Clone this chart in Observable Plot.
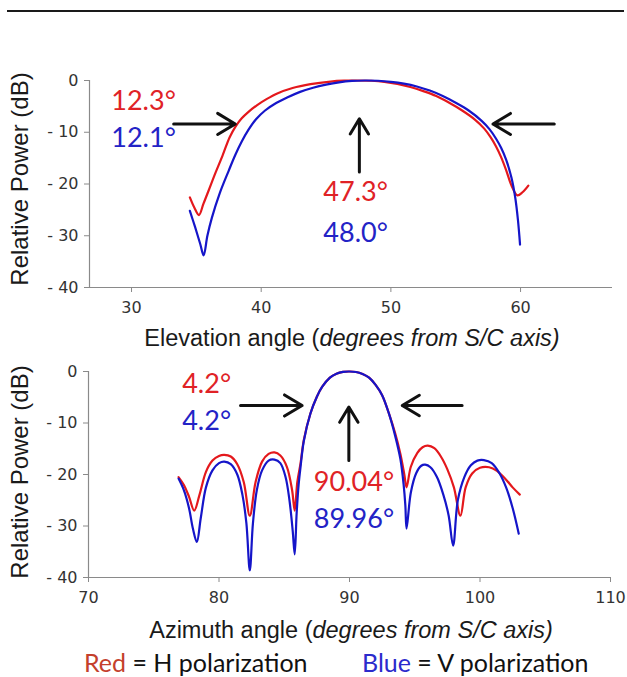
<!DOCTYPE html>
<html><head><meta charset="utf-8">
<script src="https://cdn.jsdelivr.net/npm/d3@7"></script>
<script src="https://cdn.jsdelivr.net/npm/@observablehq/plot@0.6"></script>
<style>
body{margin:0;background:#fff;}
#wrap{position:relative;width:627px;height:677px;overflow:hidden;background:#fff;}
.abs{position:absolute;}
.xt{font-family:"Liberation Sans",Arial,sans-serif;font-size:23.5px;line-height:23.5px;color:#1a1a1a;white-space:nowrap;transform:translateX(-50%);}
.leg{font-family:Lato,"Open Sans",sans-serif;font-size:25px;line-height:25px;color:#111;white-space:nowrap;}
</style></head><body><div id="wrap"></div>
<script>
// ---------- Elevation cut (degrees from S/C axis, relative power dB) ----------
const elevH_deg = [34.5, 34.85, 35.2, 35.55, 35.94, 36.48, 37.02, 37.56, 38.02, 38.5, 39.0, 39.69, 40.41, 41.24, 42.42, 43.8, 45.35, 46.4, 47.3, 48.5, 49.5, 50.5, 51.5, 52.5, 53.5, 54.5, 55.5, 56.5, 57.2, 57.7, 58.1, 58.5, 58.9, 59.3, 59.75, 60.15, 60.6];
const elevH_db  = [-22.6, -24.6, -26.0, -23.8, -21.3, -17.8, -14.5, -11.0, -8.9, -7.3, -6.1, -4.75, -3.6, -2.5, -1.45, -0.7, -0.2, -0.04, 0, -0.05, -0.25, -0.65, -1.25, -2.05, -3.0, -4.3, -5.8, -7.6, -9.3, -11.0, -12.7, -14.8, -17.4, -20.3, -22.2, -21.6, -20.3];
const elevV_deg = [34.5, 34.9, 35.3, 35.56, 35.85, 36.2, 36.8, 37.5, 38.0, 38.5, 39.0, 39.6, 40.3, 41.0, 42.0, 43.0, 44.0, 45.0, 46.0, 47.0, 48.0, 49.0, 50.0, 51.0, 52.0, 53.0, 54.0, 55.0, 56.0, 57.0, 57.6, 58.1, 58.5, 58.9, 59.3, 59.6, 59.8, 59.96];
const elevV_db  = [-25.2, -28.3, -31.6, -33.8, -30.0, -26.5, -21.8, -17.4, -14.4, -11.8, -9.6, -7.5, -5.8, -4.6, -3.3, -2.2, -1.4, -0.8, -0.35, -0.08, 0, -0.05, -0.25, -0.6, -1.15, -1.95, -3.0, -4.3, -5.8, -7.8, -9.4, -11.2, -13.0, -15.4, -18.8, -22.8, -27.0, -31.7];

// ---------- Azimuth cut ----------
const azH_deg = [76.9, 77.3, 77.7, 78.1, 78.5, 79.0, 79.5, 80.0, 80.4, 80.9, 81.4, 81.9, 82.36, 82.8, 83.3, 83.8, 84.25, 84.7, 85.2, 85.6, 85.8, 86.0, 86.25, 86.5, 87.0, 87.5, 87.9, 88.5, 89.0, 89.5, 90.04, 90.5, 91.0, 91.5, 92.0, 92.5, 93.0, 93.5, 93.9, 94.2, 94.37, 94.7, 95.2, 95.6, 96.0, 96.5, 97.0, 97.5, 98.0, 98.5, 98.9, 99.4, 100.0, 100.7, 101.3, 102.0, 102.5, 103.05];
const azH_db  = [-20.5, -22.0, -24.3, -27.0, -24.0, -19.5, -17.3, -16.4, -16.2, -16.5, -18.0, -21.5, -28.0, -21.5, -17.5, -16.0, -15.7, -16.3, -18.5, -23.0, -27.0, -21.5, -17.8, -13.3, -8.2, -4.9, -3.0, -1.2, -0.45, -0.08, 0, -0.1, -0.5, -1.2, -2.6, -4.6, -8.0, -12.0, -16.0, -20.0, -22.5, -18.5, -15.8, -14.7, -14.4, -14.9, -16.5, -19.0, -22.5, -28.0, -22.5, -19.8, -18.7, -18.6, -19.3, -21.0, -22.5, -23.9];
const azV_deg = [76.9, 77.3, 77.7, 78.0, 78.3, 78.6, 79.0, 79.5, 80.0, 80.4, 80.9, 81.4, 81.8, 82.1, 82.36, 82.6, 82.9, 83.3, 83.8, 84.25, 84.7, 85.1, 85.4, 85.65, 85.8, 85.95, 86.1, 86.25, 86.5, 87.0, 87.5, 87.9, 88.5, 89.0, 89.5, 89.96, 90.5, 91.0, 91.5, 92.0, 92.5, 93.0, 93.5, 93.9, 94.15, 94.28, 94.37, 94.7, 95.1, 95.5, 95.8, 96.2, 96.7, 97.2, 97.6, 97.94, 98.3, 98.8, 99.3, 99.8, 100.3, 100.9, 101.5, 102.0, 102.5, 102.97];
const azV_db  = [-20.8, -23.0, -26.5, -30.5, -33.1, -28.5, -22.5, -19.2, -17.8, -17.5, -18.0, -20.0, -24.0, -29.5, -38.6, -29.5, -23.0, -19.2, -17.3, -17.1, -17.8, -20.5, -25.0, -31.0, -35.5, -27.5, -22.0, -18.5, -13.5, -8.2, -4.9, -3.0, -1.2, -0.45, -0.08, 0, -0.1, -0.5, -1.2, -2.6, -4.6, -8.0, -12.5, -17.0, -22.0, -26.0, -30.5, -23.5, -19.8, -18.3, -18.1, -18.6, -20.5, -24.0, -28.0, -33.8, -25.0, -20.5, -18.2, -17.3, -17.2, -17.8, -19.8, -22.5, -26.5, -31.5];

// ---------- axes / ticks ----------
const powerTicks = [0, -10, -20, -30, -40];
const elevTicks = [30, 40, 50, 60];
const azTicks = [70, 80, 90, 100, 110];
const elevDomain = [26.76, 67.09];
const azDomain = [70, 110];
const powerDomain = [-40, 0];

// ---------- annotations (beam widths & pointing) ----------
const elevNotes = ["12.3°", "12.1°", "47.3°", "48.0°"];
const elevNoteX = [28.44, 28.44, 44.79, 44.79];
const elevNoteY = [-4.06, -11.2, -21.7, -29.5];
const elevNotePol = ["H", "V", "H", "V"];
const elevArrowX1 = [33.25, 62.6, 47.57];
const elevArrowY1 = [-8.4, -8.4, -17.7];
const elevArrowX2 = [38.0, 57.87, 47.57];
const elevArrowY2 = [-8.4, -8.4, -7.4];

const azNotes = ["4.2°", "4.2°", "90.04°", "89.96°"];
const azNoteX = [77.18, 77.18, 87.27, 87.27];
const azNoteY = [-2.5, -9.7, -21.5, -28.7];
const azNotePol = ["H", "V", "H", "V"];
const azArrowX1 = [81.65, 98.63, 89.95];
const azArrowY1 = [-6.6, -6.6, -17.3];
const azArrowX2 = [86.37, 94.04, 89.95];
const azArrowY2 = [-6.6, -6.6, -6.9];

const lineColor = {H: "#e4181c", V: "#1515c9"};
const noteColor = {H: "#e02226", V: "#2323c6"};

const zipSeries = (xs, ys, pol) => xs.map((x, i) => ({x, y: ys[i], pol}));
const zipNotes = (t, xs, ys, pol) => t.map((s, i) => ({text: s, x: xs[i], y: ys[i], pol: pol[i]}));
const zipArrows = (x1, y1, x2, y2) => x1.map((v, i) => ({x1: v, y1: y1[i], x2: x2[i], y2: y2[i]}));
const fmtPow = d => d < 0 ? "- " + (-d) : String(d);

function chart({H, V, notes, arrows, xDomain, xTicks, height, mt, mb, ml, mr, labelDy}) {
  return Plot.plot({
    width: 627, height,
    marginTop: mt, marginBottom: mb, marginLeft: ml, marginRight: mr,
    x: {domain: xDomain},
    y: {domain: powerDomain},
    style: {fontFamily: "'DejaVu Sans', Verdana, sans-serif", fontSize: "16px", color: "#333", background: "transparent", overflow: "visible"},
    marks: [
      Plot.ruleY([powerDomain[0]], {stroke: "#8a8a8a", strokeWidth: 1.2}),
      Plot.ruleX([xDomain[0]], {stroke: "#8a8a8a", strokeWidth: 1.2}),
      Plot.axisY({ticks: powerTicks, tickSize: 5, tickPadding: 6, tickFormat: fmtPow, stroke: "#8a8a8a", fill: "#333", label: null}),
      Plot.axisX({ticks: xTicks, tickSize: 5, tickPadding: 9, tickFormat: d => String(d), stroke: "#8a8a8a", fill: "#333", label: null}),
      Plot.line(H, {x: "x", y: "y", stroke: lineColor.H, strokeWidth: 2.2, curve: "catmull-rom"}),
      Plot.line(V, {x: "x", y: "y", stroke: lineColor.V, strokeWidth: 2.2, curve: "catmull-rom"}),
      Plot.arrow(arrows, {x1: "x1", y1: "y1", x2: "x2", y2: "y2", stroke: "#111", strokeWidth: 3, headLength: 15, headAngle: 62, bend: 0}),
      Plot.text(notes, {x: "x", y: "y", text: "text", fill: d => noteColor[d.pol], textAnchor: "start", fontSize: 27, fontFamily: "Lato, 'Open Sans', sans-serif"}),
      Plot.text([0], {frameAnchor: "left", textAnchor: "middle", text: () => "Relative Power (dB)", rotate: -90, dx: -ml + 20, dy: labelDy, fontSize: 24, fontFamily: "'Liberation Sans', Arial, sans-serif", fill: "#1a1a1a"})
    ]
  });
}

const wrap = document.getElementById("wrap");

const hrule = document.createElement("div");
hrule.className = "abs";
Object.assign(hrule.style, {left: "7px", top: "10px", width: "617px", height: "2px", background: "#1a1a1a"});
wrap.appendChild(hrule);

const elevChart = chart({
  H: zipSeries(elevH_deg, elevH_db, "H"), V: zipSeries(elevV_deg, elevV_db, "V"),
  notes: zipNotes(elevNotes, elevNoteX, elevNoteY, elevNotePol),
  arrows: zipArrows(elevArrowX1, elevArrowY1, elevArrowX2, elevArrowY2),
  xDomain: elevDomain, xTicks: elevTicks, height: 310, mt: 40, mb: 63, ml: 89, mr: 15, labelDy: -5
});
elevChart.style.position = "absolute"; elevChart.style.left = "0px"; elevChart.style.top = "40px";
wrap.appendChild(elevChart);

const azChart = chart({
  H: zipSeries(azH_deg, azH_db, "H"), V: zipSeries(azV_deg, azV_db, "V"),
  notes: zipNotes(azNotes, azNoteX, azNoteY, azNotePol),
  arrows: zipArrows(azArrowX1, azArrowY1, azArrowX2, azArrowY2),
  xDomain: azDomain, xTicks: azTicks, height: 260, mt: 21, mb: 33, ml: 88, mr: 17, labelDy: -2.5
});
azChart.style.position = "absolute"; azChart.style.left = "0px"; azChart.style.top = "350px";
wrap.appendChild(azChart);

function addHTML(html, cls, left, topPx) {
  const d = document.createElement("div");
  d.className = "abs " + cls;
  d.innerHTML = html;
  d.style.left = left + "px";
  d.style.top = topPx + "px";
  wrap.appendChild(d);
}
addHTML("Elevation angle (<i>degrees from S/C axis)</i>", "xt", 352, 327);
addHTML("Azimuth angle (<i>degrees from S/C axis)</i>", "xt", 351, 619);
addHTML('<span style="color:#c4402c">Red</span> = H polarization', "leg", 84, 650);
addHTML('<span style="color:#2b2bcc">Blue</span> = V polarization', "leg", 362, 650);
</script></body></html>
